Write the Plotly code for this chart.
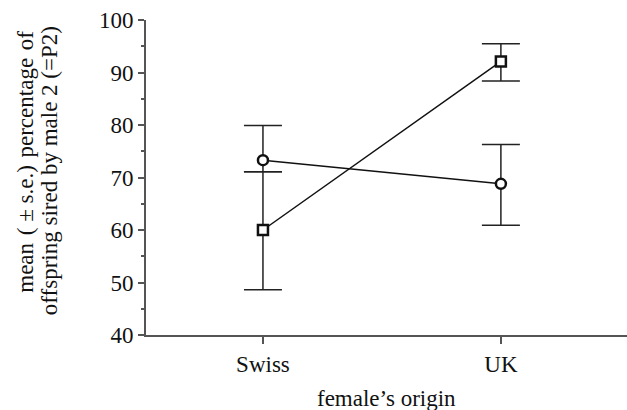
import plotly.graph_objects as go

origins = ["Swiss", "UK"]
circle_mean = [73.3, 68.8]
circle_err_up = [6.6, 7.5]
circle_err_down = [2.2, 7.9]
square_mean = [60.0, 92.1]
square_err_up = [11.1, 3.4]
square_err_down = [11.4, 3.7]
y_ticks = [40, 50, 60, 70, 80, 90, 100]

FONT = "Liberation Serif, Times New Roman, serif"
x_pos = list(range(len(origins)))

fig = go.Figure()
fig.add_trace(go.Scatter(
    x=x_pos, y=square_mean, mode="lines+markers",
    line=dict(color="#111", width=1.5),
    marker=dict(symbol="square", size=10, color="white", line=dict(color="#111", width=2.5)),
    error_y=dict(type="data", symmetric=False, array=square_err_up, arrayminus=square_err_down,
                 color="#222", thickness=1.5, width=19),
    showlegend=False,
))
fig.add_trace(go.Scatter(
    x=x_pos, y=circle_mean, mode="lines+markers",
    line=dict(color="#111", width=1.5),
    marker=dict(symbol="circle", size=10, color="white", line=dict(color="#111", width=2.5)),
    error_y=dict(type="data", symmetric=False, array=circle_err_up, arrayminus=circle_err_down,
                 color="#222", thickness=1.5, width=19),
    showlegend=False,
))

fig.update_layout(
    width=627, height=410,
    margin=dict(l=146, r=0, t=20, b=75),
    paper_bgcolor="white", plot_bgcolor="white",
    font=dict(family=FONT, size=23, color="#111"),
    xaxis=dict(
        range=[-0.4915, 1.53], tickvals=x_pos, ticktext=origins,
        showline=True, linecolor="#555", linewidth=2,
        ticks="outside", ticklen=7, tickwidth=1.5, tickcolor="#555",
        showgrid=False, zeroline=False,
    ),
    yaxis=dict(
        range=[40, 100], tickvals=y_ticks,
        showline=True, linecolor="#555", linewidth=2,
        ticks="outside", ticklen=6, tickwidth=1.5, tickcolor="#555",
        minor=dict(ticks="outside", ticklen=3, dtick=5, tickwidth=1.5, tickcolor="#555", showgrid=False),
        showgrid=False, zeroline=False,
    ),
    annotations=[
        dict(text="female\u2019s origin", xref="paper", yref="paper", x=0.5, y=0,
             xanchor="center", yanchor="middle", yshift=-63, showarrow=False,
             font=dict(family=FONT, size=23, color="#111")),
        dict(text="mean\u2004( \u00b1 s.e.)\u2004percentage\u2004of", xref="paper", yref="paper", x=0, y=0.55,
             xanchor="center", yanchor="middle", xshift=-120, textangle=-90, showarrow=False,
             font=dict(family=FONT, size=23, color="#111")),
        dict(text="offspring sired by male 2 (=P2)", xref="paper", yref="paper", x=0, y=0.52,
             xanchor="center", yanchor="middle", xshift=-97, textangle=-90, showarrow=False,
             font=dict(family=FONT, size=23, color="#111")),
    ],
)

fig.write_html("out.html", config={"displayModeBar": False},
               post_script="document.body.style.margin='0';document.body.style.overflow='hidden';")
